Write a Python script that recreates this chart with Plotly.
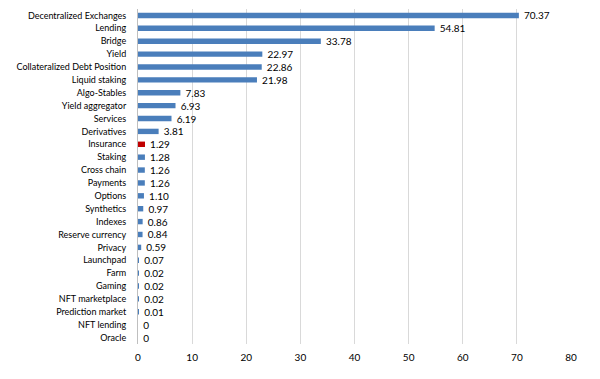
import plotly.graph_objects as go

categories = ["Decentralized Exchanges", "Lending", "Bridge", "Yield", "Collateralized Debt Position",
              "Liquid staking", "Algo-Stables", "Yield aggregator", "Services", "Derivatives",
              "Insurance", "Staking", "Cross chain", "Payments", "Options", "Synthetics", "Indexes",
              "Reserve currency", "Privacy", "Launchpad", "Farm", "Gaming", "NFT marketplace",
              "Prediction market", "NFT lending", "Oracle"]
values = [70.37, 54.81, 33.78, 22.97, 22.86, 21.98, 7.83, 6.93, 6.19, 3.81, 1.29, 1.28, 1.26, 1.26,
          1.10, 0.97, 0.86, 0.84, 0.59, 0.07, 0.02, 0.02, 0.02, 0.01, 0, 0]
value_labels = ["70.37", "54.81", "33.78", "22.97", "22.86", "21.98", "7.83", "6.93", "6.19", "3.81",
                "1.29", "1.28", "1.26", "1.26", "1.10", "0.97", "0.86", "0.84", "0.59", "0.07",
                "0.02", "0.02", "0.02", "0.01", "0", "0"]
highlight = "Insurance"
x_ticks = [0, 10, 20, 30, 40, 50, 60, 70, 80]

colors = ["#C00000" if c == highlight else "#4A7EBB" for c in categories]

fig = go.Figure(go.Bar(
    x=values, y=categories, orientation="h",
    marker=dict(color=colors, line=dict(width=0)),
    width=0.42,
    text=["\u00a0\u00a0" + t for t in value_labels], textposition="outside", cliponaxis=False,
    textfont=dict(size=10, color="#000000"),
))

fig.update_layout(
    width=600, height=379,
    margin=dict(l=130, r=37, t=1, b=43),
    paper_bgcolor="white", plot_bgcolor="white",
    font=dict(family="Lato, Liberation Sans, sans-serif", size=9.5, color="#000000"),
    showlegend=False,
    uniformtext=dict(minsize=9, mode="show"),
)
fig.update_xaxes(range=[0, 80], tickvals=x_ticks, showgrid=True, gridcolor="#D9D9D9", gridwidth=1,
                 zeroline=False, showline=False, ticks="", ticklabelstandoff=6,
                 tickfont=dict(size=10), automargin=False)
fig.update_yaxes(autorange="reversed", showline=True, linecolor="#BFBFBF", linewidth=1,
                 ticks="", showgrid=False, tickfont=dict(size=9), ticklabelstandoff=9,
                 automargin=False)

fig.write_html("out.html")
